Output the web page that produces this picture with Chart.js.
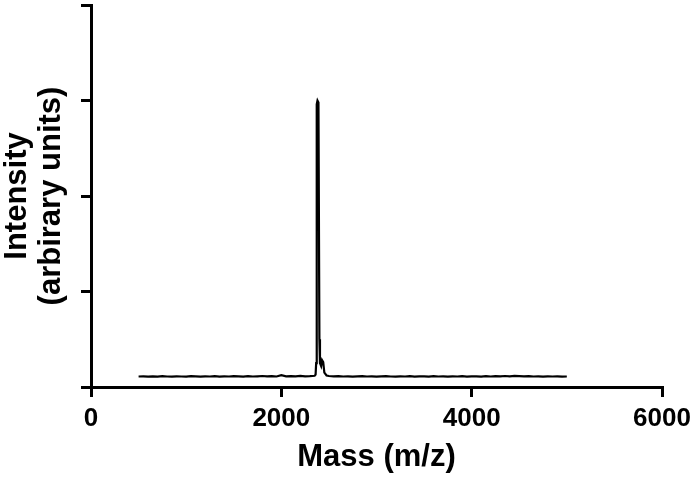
<!DOCTYPE html>
<html>
<head>
<meta charset="utf-8">
<script src="https://cdn.jsdelivr.net/npm/chart.js@4.4.1/dist/chart.umd.min.js"></script>
<style>
    html, body { margin: 0; padding: 0; background: #fff; }
    canvas { display: block; }
</style>
</head>
<body>
<canvas id="massChart" width="692" height="477"></canvas>
<script>
// Spectrum data (m/z vs intensity, arbitrary units)
const massLeft = [500, 550, 600, 650, 700, 750, 800, 850, 900, 950,
    1000, 1050, 1100, 1150, 1200, 1250, 1300, 1350, 1400, 1450,
    1500, 1550, 1600, 1650, 1700, 1750, 1800, 1850, 1900, 1950,
    2000, 2050, 2100, 2150, 2200, 2250, 2300, 2350];
const intensityLeft = [0.11, 0.112, 0.108, 0.111, 0.109, 0.113, 0.11, 0.108, 0.112, 0.11,
    0.109, 0.113, 0.111, 0.108, 0.112, 0.11, 0.114, 0.109, 0.112, 0.11,
    0.113, 0.111, 0.109, 0.114, 0.11, 0.112, 0.115, 0.111, 0.113, 0.11,
    0.124, 0.112, 0.114, 0.111, 0.116, 0.112, 0.114, 0.118];

const massPeak = [2360, 2366, 2372, 2380, 2390, 2400, 2406, 2418, 2428, 2440, 2452, 2475];
const intensityPeak = [0.13, 0.25, 2.96, 3.0, 2.98, 0.5, 0.25, 0.22, 0.28, 0.26, 0.15, 0.12];

const massRight = [2500, 2550, 2600, 2650, 2700, 2750, 2800, 2850, 2900, 2950,
    3000, 3050, 3100, 3150, 3200, 3250, 3300, 3350, 3400, 3450,
    3500, 3550, 3600, 3650, 3700, 3750, 3800, 3850, 3900, 3950,
    4000, 4050, 4100, 4150, 4200, 4250, 4300, 4350, 4400, 4450,
    4500, 4550, 4600, 4650, 4700, 4750, 4800, 4850, 4900, 4950,
    5000];
const intensityRight = [0.115, 0.112, 0.113, 0.11, 0.112, 0.109, 0.111, 0.113, 0.11, 0.112,
    0.109, 0.111, 0.113, 0.11, 0.108, 0.112, 0.11, 0.113, 0.109, 0.111,
    0.112, 0.109, 0.113, 0.11, 0.111, 0.108, 0.112, 0.11, 0.113, 0.109,
    0.111, 0.112, 0.109, 0.113, 0.11, 0.114, 0.111, 0.115, 0.112, 0.116,
    0.113, 0.111, 0.114, 0.11, 0.112, 0.109, 0.111, 0.11, 0.112, 0.109,
    0.11];

const xTicks = [0, 2000, 4000, 6000];
const yTicks = [0, 1, 2, 3, 4];

const masses = massLeft.concat(massPeak, massRight);
const intensities = intensityLeft.concat(intensityPeak, intensityRight);
const points = masses.map((m, i) => ({ x: m, y: intensities[i] }));

const fontFamily = '"Liberation Sans", Arial, Helvetica, sans-serif';

const ctx = document.getElementById('massChart').getContext('2d');
const massChart = new Chart(ctx, {
    type: 'line',
    data: {
        datasets: [{
            data: points,
            borderColor: '#000',
            borderWidth: 2.2,
            pointRadius: 0,
            tension: 0,
            fill: false
        }]
    },
    options: {
        responsive: false,
        animation: false,
        devicePixelRatio: 1,
        layout: { padding: { top: 5, right: 30, left: 0, bottom: 0 } },
        plugins: {
            legend: { display: false },
            tooltip: { enabled: false }
        },
        scales: {
            x: {
                type: 'linear',
                min: 0,
                max: 6000,
                afterBuildTicks: function(scale) {
                    scale.ticks = xTicks.map(v => ({ value: v }));
                },
                afterFit: function(scale) {
                    scale.height = 90;
                    // let the last label hang into the right margin
                    scale.paddingLeft = 0;
                    scale.paddingRight = 0;
                },
                ticks: {
                    color: '#000',
                    padding: 6,
                    maxRotation: 0,
                    callback: function(value) {
                        return String(value);
                    },
                    font: { family: fontFamily, size: 26, weight: 'bold' }
                },
                grid: {
                    drawOnChartArea: false,
                    drawTicks: true,
                    tickLength: 10,
                    color: '#000',
                    lineWidth: 3
                },
                border: { display: true, color: '#000', width: 3 },
                title: {
                    display: true,
                    text: 'Mass (m/z)',
                    color: '#000',
                    padding: { top: 0, bottom: 1 },
                    font: { family: fontFamily, size: 31, weight: 'bold' }
                }
            },
            y: {
                min: 0,
                max: 4,
                afterBuildTicks: function(scale) {
                    scale.ticks = yTicks.map(v => ({ value: v }));
                },
                afterFit: function(scale) {
                    scale.width = 91;
                },
                ticks: { display: false },
                grid: {
                    drawOnChartArea: false,
                    drawTicks: true,
                    tickLength: 10,
                    color: '#000',
                    lineWidth: 3
                },
                border: { display: true, color: '#000', width: 3 },
                title: {
                    display: true,
                    text: ['Intensity', '(arbirary units)'],
                    color: '#000',
                    padding: { top: 0, bottom: 0 },
                    font: { family: fontFamily, size: 31, weight: 'bold', lineHeight: 1.1 }
                }
            }
        }
    }
});
</script>
</body>
</html>
